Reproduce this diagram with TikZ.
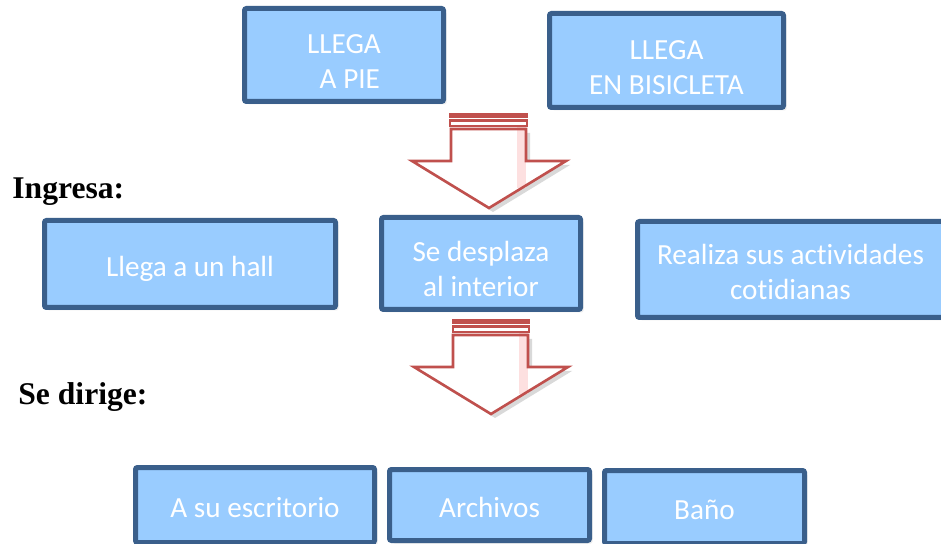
\documentclass[tikz,border=0pt]{standalone}
\usepackage{fontspec}
\setmainfont{Liberation Serif}
\newfontfamily\cajafont[Ligatures=NoCommon]{Carlito}
\usepackage{tikz}
\usetikzlibrary{positioning,shadows}

\definecolor{celeste}{HTML}{99CCFF}
\definecolor{bordeazul}{HTML}{3A5F8B}
\definecolor{rojoflecha}{HTML}{C0504D}
\definecolor{rosaflecha}{HTML}{FDE0E0}

\tikzset{
  caja/.style={draw=bordeazul, fill=celeste, line width=2.5pt, rounded corners=1pt, inner sep=0pt,
    drop shadow={opacity=0.15, shadow xshift=1.5pt, shadow yshift=-1.5pt}},
  textocaja/.style={text=white, font=\cajafont\fontsize{14.6}{17.5}\selectfont, align=center, inner sep=0pt},
  titulo/.style={font=\bfseries\fontsize{15.8}{18}\selectfont, anchor=base west, inner sep=0pt},
  flecha/.style={draw=rojoflecha, line width=1.3pt, line join=miter}
}

\begin{document}
\begin{tikzpicture}[x=0.5pt,y=-0.5pt]
\useasboundingbox (0,0) rectangle (941,544);

% cajas
\node[caja, minimum width=99.5pt, minimum height=46.5pt] (pie) at (344,55) {};
\node[caja, minimum width=117pt, minimum height=47pt] (bici) at (666.5,60.5) {};
\node[caja, minimum width=145.5pt, minimum height=43.5pt] (hall) at (190,264) {};
\node[caja, minimum width=99.5pt, minimum height=46pt] (desplaza) at (481,263.5) {};
\node[caja, minimum width=153pt, minimum height=48pt] (actividades) at (790.5,269.5) {};
\node[caja, minimum width=119.5pt, minimum height=37.5pt] (escritorio) at (255,505) {};
\node[caja, minimum width=100pt, minimum height=35.5pt] (archivos) at (489.5,505) {};
\node[caja, minimum width=100pt, minimum height=36.5pt] (bano) at (704.5,507) {};

% textos de las cajas
\node[textocaja] (pie-t) at ([yshift=-3.5pt]pie.center) {LLEGA\\\hspace*{0.4em}A PIE};
\node[textocaja] (bici-t) at ([yshift=-3.5pt]bici.center) {LLEGA\\EN BISICLETA};
\node[textocaja] (hall-t) at ([yshift=-2.5pt]hall.center) {Llega a un hall};
\node[textocaja] (desplaza-t) at ([yshift=-2.5pt]desplaza.center) {Se desplaza\\al interior};
\node[textocaja] (actividades-t) at ([yshift=-1pt]actividades.center) {Realiza sus actividades\\cotidianas};
\node[textocaja] (escritorio-t) at ([yshift=-1.2pt]escritorio.center) {A su escritorio};
\node[textocaja] (archivos-t) at ([yshift=-1.2pt]archivos.center) {Archivos};
\node[textocaja] (bano-t) at ([yshift=-1.2pt]bano.center) {Baño};

% titulos
\node[titulo] (ingresa) at (12,199) {Ingresa:};
\node[titulo] (dirige) at (18,405) {Se dirige:};

% flecha 1
\fill[white, drop shadow={opacity=0.3, shadow xshift=2pt, shadow yshift=-2pt}]
  (451,129) -- (451,161) -- (412,161) -- (489,208) -- (566,161) -- (526,161) -- (526,129) -- cycle;
\fill[rosaflecha] (517,126) rectangle (526,188);
\draw[flecha] (451,129) -- (451,161) -- (412,161) -- (489,208) -- (566,161) -- (526,161) -- (526,129) -- cycle;
\fill[rojoflecha] (449,113) rectangle (528,118);
\draw[flecha, fill=white] (450,120.5) rectangle (527,126);

% flecha 2
\fill[white, drop shadow={opacity=0.3, shadow xshift=2pt, shadow yshift=-2pt}]
  (453,335) -- (453,367) -- (414,367) -- (491,414) -- (568,367) -- (528,367) -- (528,335) -- cycle;
\fill[rosaflecha] (519,332) rectangle (528,394);
\draw[flecha] (453,335) -- (453,367) -- (414,367) -- (491,414) -- (568,367) -- (528,367) -- (528,335) -- cycle;
\fill[rojoflecha] (452,319) rectangle (530,324);
\draw[flecha, fill=white] (453,326.5) rectangle (529,332);
\end{tikzpicture}
\end{document}
